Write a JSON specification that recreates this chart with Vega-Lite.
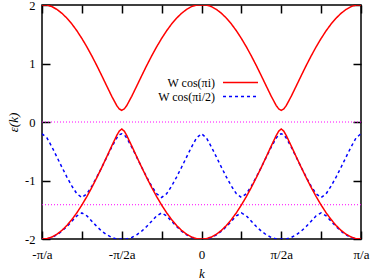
{
  "$schema": "https://vega.github.io/schema/vega-lite/v6.json",
  "width": 319,
  "height": 234,
  "autosize": {"type": "none"},
  "padding": {"left": 42, "top": 5, "right": 13, "bottom": 40},
  "background": "white",
  "config": {
    "view": {"stroke": "black", "strokeWidth": 1.5},
    "font": "Liberation Serif",
    "axis": {
      "domain": false,
      "grid": false,
      "labelFont": "Liberation Serif",
      "labelFontSize": 13,
      "labelColor": "black",
      "tickColor": "black",
      "tickWidth": 1.5,
      "tickSize": -8,
      "labelFlush": false,
      "labelOverlap": false,
      "titleFont": "Liberation Serif",
      "titleFontSize": 13,
      "titleFontStyle": "italic",
      "titleFontWeight": "normal",
      "titleColor": "black"
    },
    "legend": {
      "labelFont": "Liberation Serif",
      "labelFontSize": 12,
      "labelColor": "black"
    }
  },
  "data": {
    "values": [
      {"k": -1, "ru": 2.0, "rl": -2.0, "bt": -0.2, "bb": -2.0},
      {"k": -0.96875, "ru": 2.0, "rl": -1.994, "bt": -0.273, "bb": -2.0},
      {"k": -0.9375, "ru": 1.972, "rl": -1.965, "bt": -0.428, "bb": -1.974},
      {"k": -0.90625, "ru": 1.924, "rl": -1.918, "bt": -0.6, "bb": -1.928},
      {"k": -0.875, "ru": 1.858, "rl": -1.852, "bt": -0.774, "bb": -1.866},
      {"k": -0.84375, "ru": 1.775, "rl": -1.768, "bt": -0.941, "bb": -1.787},
      {"k": -0.8125, "ru": 1.675, "rl": -1.667, "bt": -1.096, "bb": -1.696},
      {"k": -0.78125, "ru": 1.559, "rl": -1.551, "bt": -1.227, "bb": -1.604},
      {"k": -0.75, "ru": 1.428, "rl": -1.419, "bt": -1.29, "bb": -1.554},
      {"k": -0.71875, "ru": 1.285, "rl": -1.275, "bt": -1.227, "bb": -1.604},
      {"k": -0.6875, "ru": 1.129, "rl": -1.118, "bt": -1.096, "bb": -1.696},
      {"k": -0.65625, "ru": 0.964, "rl": -0.95, "bt": -0.941, "bb": -1.787},
      {"k": -0.625, "ru": 0.791, "rl": -0.775, "bt": -0.774, "bb": -1.866},
      {"k": -0.59375, "ru": 0.614, "rl": -0.593, "bt": -0.6, "bb": -1.928},
      {"k": -0.5625, "ru": 0.439, "rl": -0.408, "bt": -0.428, "bb": -1.974},
      {"k": -0.53125, "ru": 0.28, "rl": -0.23, "bt": -0.273, "bb": -2.0},
      {"k": -0.515625, "ru": 0.223, "rl": -0.155, "bt": -0.218, "bb": -2.0},
      {"k": -0.5, "ru": 0.2, "rl": -0.12, "bt": -0.2, "bb": -2.0},
      {"k": -0.484375, "ru": 0.223, "rl": -0.155, "bt": -0.218, "bb": -2.0},
      {"k": -0.46875, "ru": 0.28, "rl": -0.23, "bt": -0.273, "bb": -2.0},
      {"k": -0.4375, "ru": 0.439, "rl": -0.408, "bt": -0.428, "bb": -1.974},
      {"k": -0.40625, "ru": 0.614, "rl": -0.593, "bt": -0.6, "bb": -1.928},
      {"k": -0.375, "ru": 0.791, "rl": -0.775, "bt": -0.774, "bb": -1.866},
      {"k": -0.34375, "ru": 0.964, "rl": -0.95, "bt": -0.941, "bb": -1.787},
      {"k": -0.3125, "ru": 1.129, "rl": -1.118, "bt": -1.096, "bb": -1.696},
      {"k": -0.28125, "ru": 1.285, "rl": -1.275, "bt": -1.227, "bb": -1.604},
      {"k": -0.25, "ru": 1.428, "rl": -1.419, "bt": -1.29, "bb": -1.554},
      {"k": -0.21875, "ru": 1.559, "rl": -1.551, "bt": -1.227, "bb": -1.604},
      {"k": -0.1875, "ru": 1.675, "rl": -1.667, "bt": -1.096, "bb": -1.696},
      {"k": -0.15625, "ru": 1.775, "rl": -1.768, "bt": -0.941, "bb": -1.787},
      {"k": -0.125, "ru": 1.858, "rl": -1.852, "bt": -0.774, "bb": -1.866},
      {"k": -0.09375, "ru": 1.924, "rl": -1.918, "bt": -0.6, "bb": -1.928},
      {"k": -0.0625, "ru": 1.972, "rl": -1.965, "bt": -0.428, "bb": -1.974},
      {"k": -0.03125, "ru": 2.0, "rl": -1.994, "bt": -0.273, "bb": -2.0},
      {"k": 0, "ru": 2.0, "rl": -2.0, "bt": -0.2, "bb": -2.0},
      {"k": 0.03125, "ru": 2.0, "rl": -1.994, "bt": -0.273, "bb": -2.0},
      {"k": 0.0625, "ru": 1.972, "rl": -1.965, "bt": -0.428, "bb": -1.974},
      {"k": 0.09375, "ru": 1.924, "rl": -1.918, "bt": -0.6, "bb": -1.928},
      {"k": 0.125, "ru": 1.858, "rl": -1.852, "bt": -0.774, "bb": -1.866},
      {"k": 0.15625, "ru": 1.775, "rl": -1.768, "bt": -0.941, "bb": -1.787},
      {"k": 0.1875, "ru": 1.675, "rl": -1.667, "bt": -1.096, "bb": -1.696},
      {"k": 0.21875, "ru": 1.559, "rl": -1.551, "bt": -1.227, "bb": -1.604},
      {"k": 0.25, "ru": 1.428, "rl": -1.419, "bt": -1.29, "bb": -1.554},
      {"k": 0.28125, "ru": 1.285, "rl": -1.275, "bt": -1.227, "bb": -1.604},
      {"k": 0.3125, "ru": 1.129, "rl": -1.118, "bt": -1.096, "bb": -1.696},
      {"k": 0.34375, "ru": 0.964, "rl": -0.95, "bt": -0.941, "bb": -1.787},
      {"k": 0.375, "ru": 0.791, "rl": -0.775, "bt": -0.774, "bb": -1.866},
      {"k": 0.40625, "ru": 0.614, "rl": -0.593, "bt": -0.6, "bb": -1.928},
      {"k": 0.4375, "ru": 0.439, "rl": -0.408, "bt": -0.428, "bb": -1.974},
      {"k": 0.46875, "ru": 0.28, "rl": -0.23, "bt": -0.273, "bb": -2.0},
      {"k": 0.484375, "ru": 0.223, "rl": -0.155, "bt": -0.218, "bb": -2.0},
      {"k": 0.5, "ru": 0.2, "rl": -0.12, "bt": -0.2, "bb": -2.0},
      {"k": 0.515625, "ru": 0.223, "rl": -0.155, "bt": -0.218, "bb": -2.0},
      {"k": 0.53125, "ru": 0.28, "rl": -0.23, "bt": -0.273, "bb": -2.0},
      {"k": 0.5625, "ru": 0.439, "rl": -0.408, "bt": -0.428, "bb": -1.974},
      {"k": 0.59375, "ru": 0.614, "rl": -0.593, "bt": -0.6, "bb": -1.928},
      {"k": 0.625, "ru": 0.791, "rl": -0.775, "bt": -0.774, "bb": -1.866},
      {"k": 0.65625, "ru": 0.964, "rl": -0.95, "bt": -0.941, "bb": -1.787},
      {"k": 0.6875, "ru": 1.129, "rl": -1.118, "bt": -1.096, "bb": -1.696},
      {"k": 0.71875, "ru": 1.285, "rl": -1.275, "bt": -1.227, "bb": -1.604},
      {"k": 0.75, "ru": 1.428, "rl": -1.419, "bt": -1.29, "bb": -1.554},
      {"k": 0.78125, "ru": 1.559, "rl": -1.551, "bt": -1.227, "bb": -1.604},
      {"k": 0.8125, "ru": 1.675, "rl": -1.667, "bt": -1.096, "bb": -1.696},
      {"k": 0.84375, "ru": 1.775, "rl": -1.768, "bt": -0.941, "bb": -1.787},
      {"k": 0.875, "ru": 1.858, "rl": -1.852, "bt": -0.774, "bb": -1.866},
      {"k": 0.90625, "ru": 1.924, "rl": -1.918, "bt": -0.6, "bb": -1.928},
      {"k": 0.9375, "ru": 1.972, "rl": -1.965, "bt": -0.428, "bb": -1.974},
      {"k": 0.96875, "ru": 2.0, "rl": -1.994, "bt": -0.273, "bb": -2.0},
      {"k": 1, "ru": 2.0, "rl": -2.0, "bt": -0.2, "bb": -2.0}
    ]
  },
  "layer": [
    {
      "data": {"values": [{"e": 0}, {"e": -1.414}]},
      "mark": {"type": "rule", "color": "#ff00ff", "strokeWidth": 1, "strokeDash": [1, 2]},
      "encoding": {
        "y": {"field": "e", "type": "quantitative", "axis": null}
      }
    },
    {
      "transform": [{"fold": ["bt", "bb", "ru", "rl"], "as": ["curve", "e"]}],
      "mark": {"type": "line", "strokeWidth": 1.5, "clip": true},
      "encoding": {
        "x": {
          "field": "k", "type": "quantitative",
          "scale": {"domain": [-1, 1], "nice": false, "zero": false},
          "axis": {
            "orient": "bottom",
            "title": "k",
            "values": [-1, -0.75, -0.5, -0.25, 0, 0.25, 0.5, 0.75, 1],
            "labelExpr": "datum.value == -1 ? '-π/a' : datum.value == -0.5 ? '-π/2a' : datum.value == 0 ? '0' : datum.value == 0.5 ? 'π/2a' : datum.value == 1 ? 'π/a' : ''",
            "labelPadding": 17,
            "titlePadding": 6
          }
        },
        "y": {
          "field": "e", "type": "quantitative",
          "scale": {"domain": [-2, 2], "nice": false, "zero": false},
          "axis": {
            "orient": "left",
            "title": "ε(k)",
            "values": [-2, -1, 0, 1, 2],
            "labelExpr": "replace(datum.label, '−', '-')",
            "labelFontSize": 12.5,
            "labelPadding": 15,
            "titlePadding": 4
          }
        },
        "color": {
          "field": "curve", "type": "nominal",
          "scale": {"domain": ["ru", "bt", "rl", "bb"], "range": ["#ff0000", "#0000ff", "#ff0000", "#0000ff"]},
          "legend": {
            "title": null,
            "orient": "none",
            "legendX": 80,
            "legendY": 59,
            "padding": 0,
            "values": ["ru"],
            "labelExpr": "'W cos(πi)'",
            "symbolType": "stroke",
            "symbolSize": 1225,
            "symbolStrokeWidth": 1.5,
            "symbolOffset": 100,
            "labelAlign": "right",
            "labelOffset": -44
          }
        },
        "strokeDash": {
          "field": "curve", "type": "nominal",
          "scale": {"domain": ["bt", "ru", "bb", "rl"], "range": [[3, 3], [1, 0], [3, 3], [1, 0]]},
          "legend": {
            "title": null,
            "orient": "none",
            "legendX": 80,
            "legendY": 73,
            "padding": 0,
            "values": ["bt"],
            "labelExpr": "'W cos(πi/2)'",
            "symbolType": "stroke",
            "symbolSize": 1225,
            "symbolStrokeWidth": 1.5,
            "symbolStrokeColor": "#0000ff",
            "symbolOffset": 100,
            "labelAlign": "right",
            "labelOffset": -44
          }
        }
      }
    },
    {
      "mark": {"type": "point", "opacity": 0},
      "encoding": {
        "x": {
          "field": "k", "type": "quantitative",
          "axis": {"orient": "top", "title": null, "labels": false, "values": [-1, -0.75, -0.5, -0.25, 0, 0.25, 0.5, 0.75, 1]}
        },
        "y": {
          "field": "ru", "type": "quantitative",
          "axis": {"orient": "right", "title": null, "labels": false, "values": [-2, -1, 0, 1, 2]}
        }
      }
    }
  ],
  "resolve": {"axis": {"x": "independent", "y": "independent"}}
}
